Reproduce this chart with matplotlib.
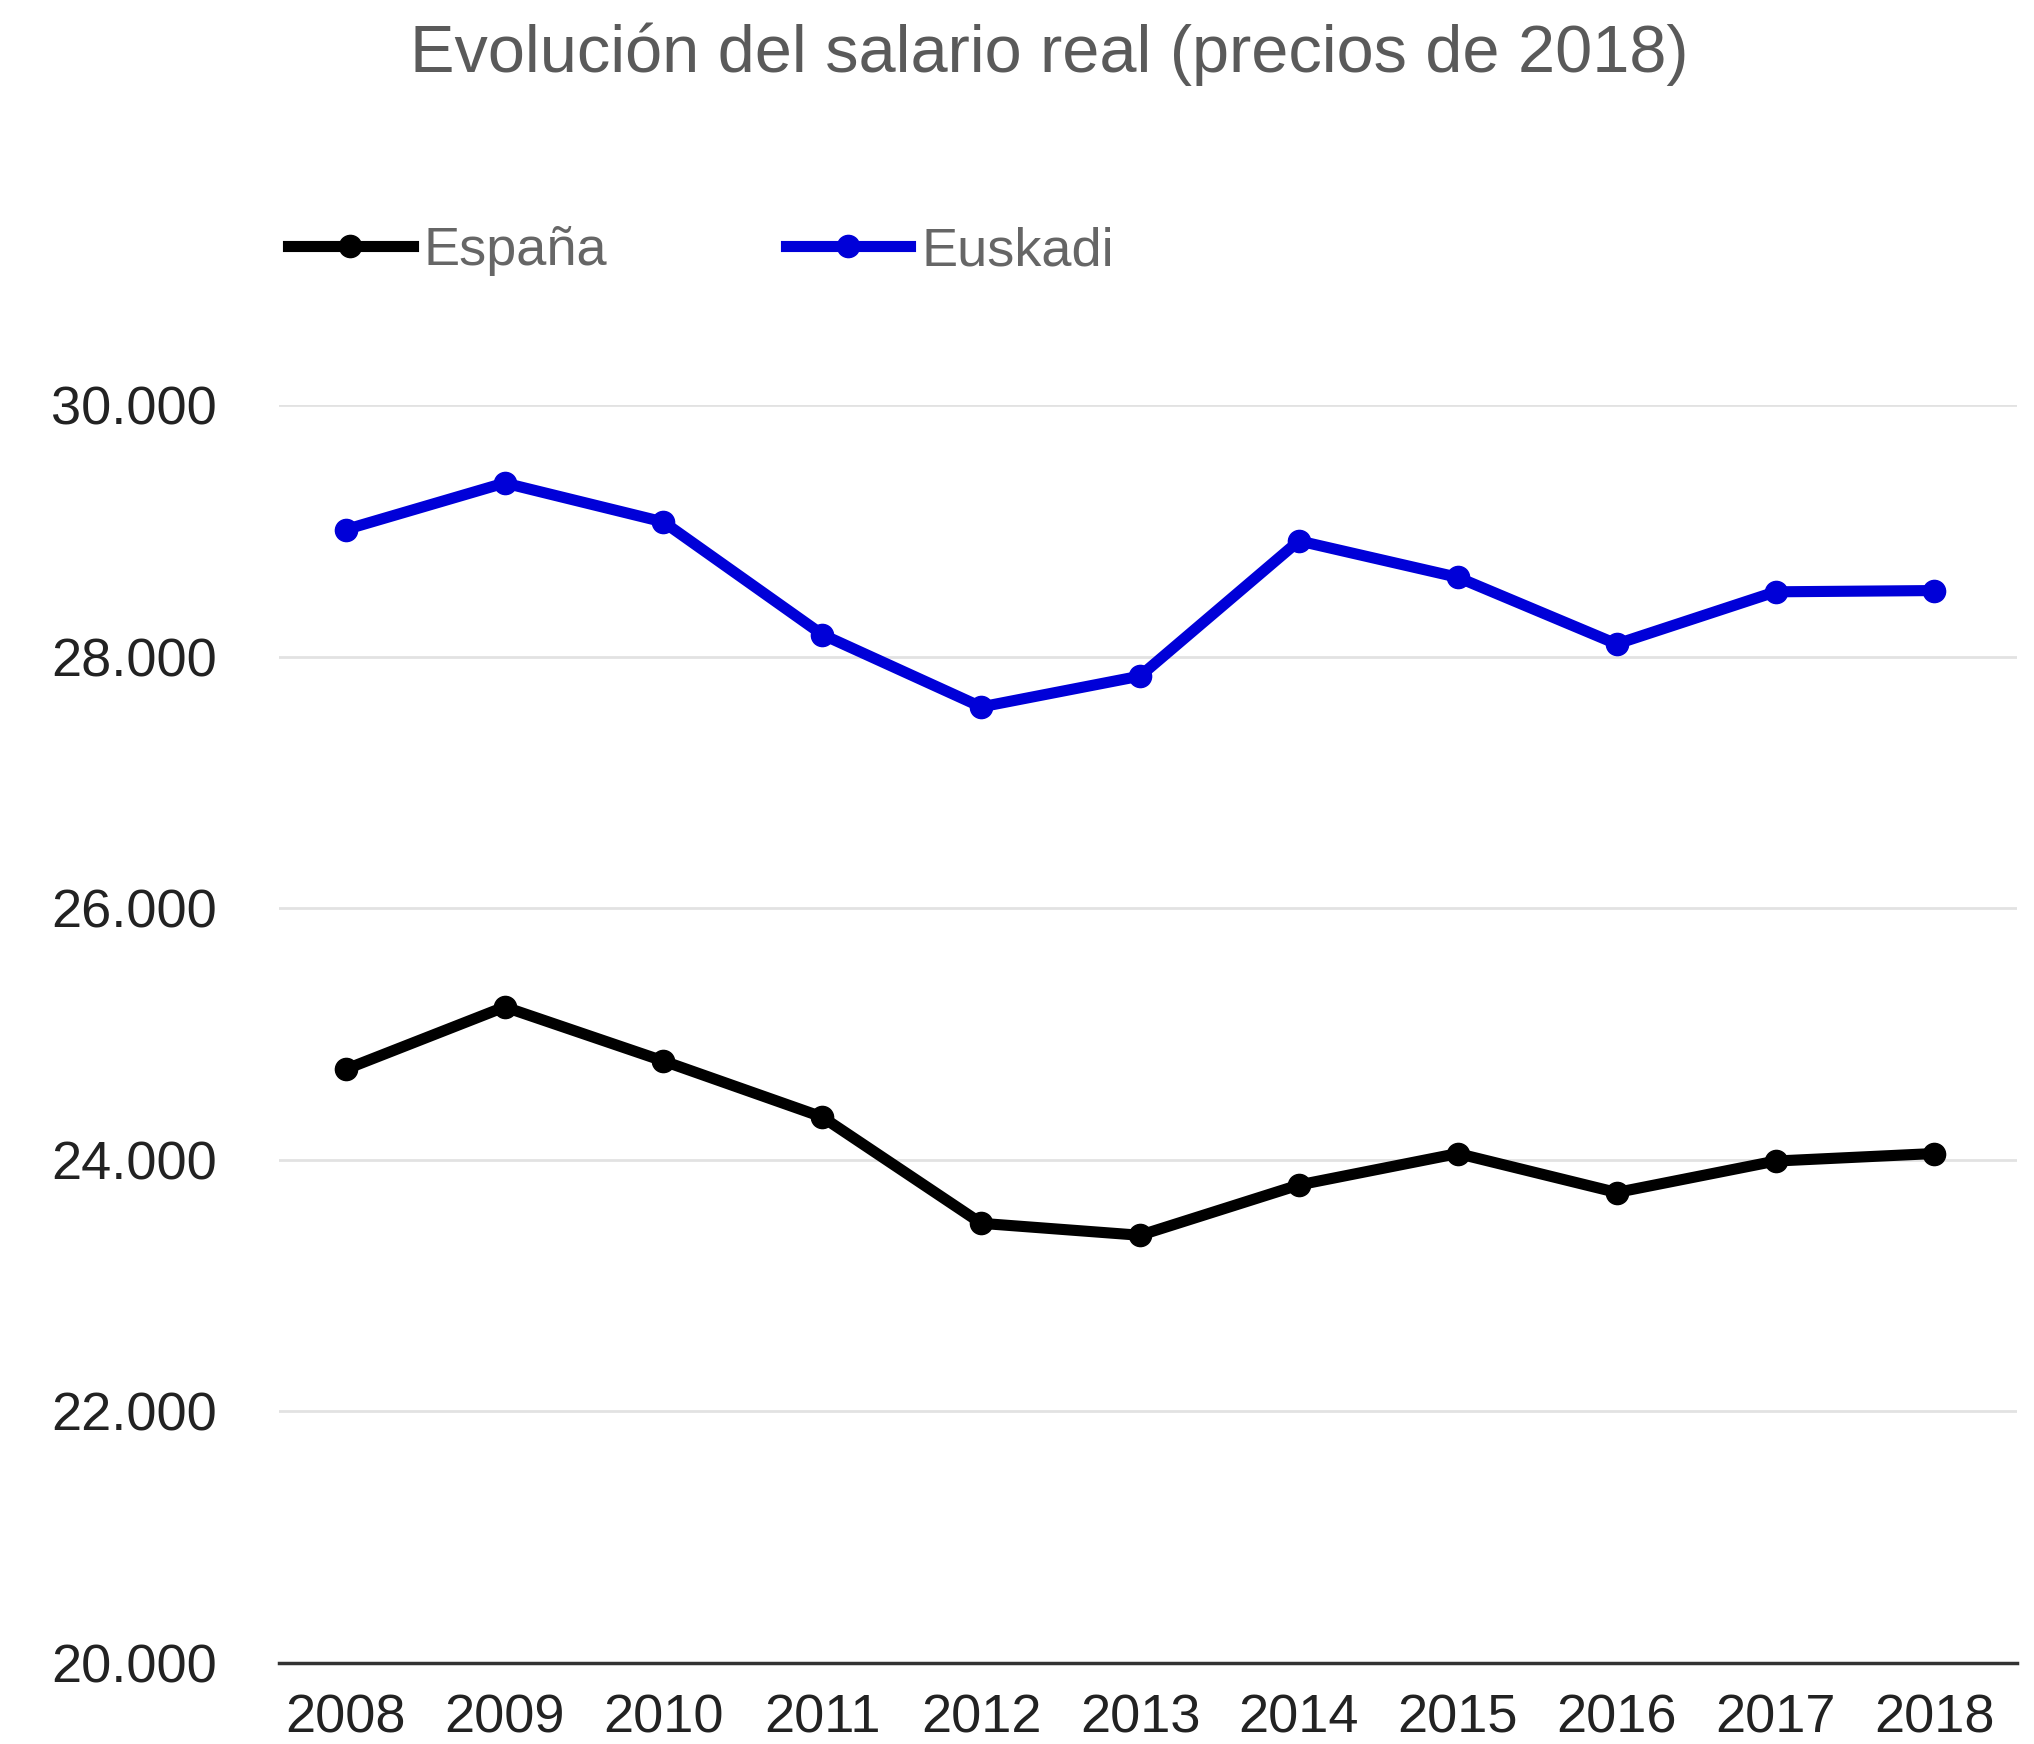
import matplotlib
matplotlib.use("Agg")
import matplotlib.pyplot as plt
from matplotlib.ticker import FuncFormatter

plt.rcParams['font.family'] = ['Liberation Sans', 'DejaVu Sans']

# Datos (salario real, precios de 2018)
years = ['2008', '2009', '2010', '2011', '2012', '2013', '2014', '2015', '2016', '2017', '2018']
espana = [24720, 25215, 24785, 24340, 23495, 23400, 23800, 24050, 23740, 23990, 24050]
euskadi = [29010, 29380, 29070, 28175, 27600, 27845, 28920, 28630, 28100, 28515, 28525]
yticks = [20000, 22000, 24000, 26000, 28000, 30000]

fig = plt.figure(figsize=(20.34, 17.44), dpi=100)
ax = fig.add_axes([279 / 2034, 1 - 1663 / 1744, (2017 - 279) / 2034, (1663 - 405) / 1744])

x = list(range(len(years)))
ax.plot(x, espana, color='black', lw=8, marker='o', ms=16, label='España',
        solid_joinstyle='round', zorder=3)
ax.plot(x, euskadi, color='#0000d8', lw=8, marker='o', ms=16, label='Euskadi',
        solid_joinstyle='round', zorder=3)

ax.set_xlim(-0.42, 10.52)
ax.set_ylim(20000, 30000)
ax.set_yticks(yticks)
ax.yaxis.set_major_formatter(FuncFormatter(lambda v, p: f"{int(v):,}".replace(',', '.')))
ax.set_xticks(x)
ax.set_xticklabels(years)

ax.grid(axis='y', color='#e2e2e2', lw=2)
ax.set_axisbelow(True)
for s in ['left', 'right', 'top']:
    ax.spines[s].set_visible(False)
ax.spines['bottom'].set_color('#333333')
ax.spines['bottom'].set_linewidth(2.5)
ax.spines['bottom'].set_zorder(4)

ax.tick_params(axis='y', length=0, pad=45, labelsize=39, labelcolor='#222222')
ax.tick_params(axis='x', length=0, pad=22, labelsize=39, labelcolor='#222222')

fig.text(0.516, 1 - 54 / 1744, 'Evolución del salario real (precios de 2018)',
         ha='center', va='center', fontsize=48, color='#5a5a5a')

fig.legend(loc='center left', bbox_to_anchor=(288 / 2034, 1 - 251 / 1744), ncol=2,
           frameon=False, fontsize=39, handlelength=2.3, handletextpad=0.2,
           columnspacing=3.3, borderpad=0, borderaxespad=0, labelcolor='#666666')

fig.savefig('out.png', dpi=100)
